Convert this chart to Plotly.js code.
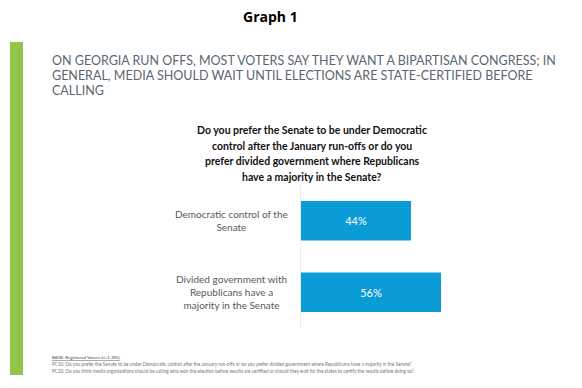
<!DOCTYPE html>
<html>
<head>
<meta charset="utf-8">
<script src="https://cdn.plot.ly/plotly-3.0.1.min.js"></script>
<style>html,body{margin:0;padding:0;background:#fff;}#chart{width:582px;height:388px;}</style>
</head>
<body>
<div id="chart"></div>
<script>
var categories = ["Democratic control of the<br>Senate", "Divided government with<br>Republicans have a<br>majority in the Senate"];
var values = [44, 56];
var chartTitle = "Graph 1";
var headingLines = ["ON GEORGIA RUN OFFS, MOST VOTERS SAY THEY WANT A BIPARTISAN CONGRESS; IN", "GENERAL, MEDIA SHOULD WAIT UNTIL ELECTIONS ARE STATE-CERTIFIED BEFORE", "CALLING"];
var questionLines = ["Do you prefer the Senate to be under Democratic", "control after the January run-offs or do you", "prefer divided government where Republicans", "have a majority in the Senate?"];
var baseNote = "<u>BASE: Registered Voters (n=1,305)</u>";
var footnoteLines = ["PC10: Do you prefer the Senate to be under Democratic control after the January run-offs or do you prefer divided government where Republicans have a majority in the Senate?", "PC20: Do you think media organizations should be calling who won the election before results are certified or should they wait for the states to certify the results before doing so?"];

var W = 582, H = 388;
var L = 301, R = 31, T = 185, B = 60;
var pw = W - L - R, ph = H - T - B;
function px(x){ return (x - L) / pw; }
function py(y){ return (H - B - y) / ph; }

var trace = {
  type: "bar",
  orientation: "h",
  y: categories,
  x: values,
  marker: {color: "#0b9bd7"},
  width: 0.55,
  texttemplate: "%{x}%",
  textposition: "inside",
  insidetextanchor: "middle",
  textfont: {family: "Lato, sans-serif", size: 11, color: "#ffffff"},
  hoverinfo: "skip"
};

var annotations = [
  {text: "<b>" + chartTitle + "</b>", xref: "paper", yref: "paper", x: px(270), y: py(16), xanchor: "center", yanchor: "middle", showarrow: false, font: {family: "Open Sans, sans-serif", size: 14, color: "#000"}},
  {text: baseNote, xref: "paper", yref: "paper", x: px(50), y: py(357), xanchor: "left", yanchor: "middle", align: "left", showarrow: false, font: {family: "Lato, sans-serif", size: 4.5, color: "#444"}}
];
headingLines.forEach(function(t, i){
  annotations.push({text: t, xref: "paper", yref: "paper", x: px(50), y: py(60 + i * 15.3), xanchor: "left", yanchor: "middle", align: "left", showarrow: false, font: {family: "Lato, sans-serif", size: 12.5, color: "#5a6670"}});
});
questionLines.forEach(function(t, i){
  annotations.push({text: "<b>" + t + "</b>", xref: "paper", yref: "paper", x: px(312), y: py(130 + i * 15.7), xanchor: "center", yanchor: "middle", align: "center", showarrow: false, font: {family: "Lato, sans-serif", size: 10.5, color: "#111"}});
});
footnoteLines.forEach(function(t, i){
  annotations.push({text: t, xref: "paper", yref: "paper", x: px(50), y: py(364 + i * 6.5), xanchor: "left", yanchor: "middle", align: "left", showarrow: false, font: {family: "Lato, sans-serif", size: 4.65, color: "#777"}});
});
categories.forEach(function(c){
  annotations.push({text: c, xref: "paper", yref: "y", x: px(231), y: c, xanchor: "center", yanchor: "middle", align: "center", showarrow: false, font: {family: "Lato, sans-serif", size: 10, color: "#595959"}});
});

var layout = {
  width: W, height: H,
  margin: {l: L, r: R, t: T, b: B, pad: 0},
  paper_bgcolor: "#fff", plot_bgcolor: "#fff",
  showlegend: false,
  xaxis: {range: [0, 100], visible: false, fixedrange: true},
  yaxis: {autorange: "reversed", showticklabels: false, ticks: "", showgrid: false, zeroline: false, showline: true, linecolor: "#ececec", linewidth: 1, fixedrange: true},
  shapes: [
    {type: "rect", xref: "paper", yref: "paper", x0: px(10), x1: px(23), y0: py(42), y1: py(375), fillcolor: "#8fc64a", line: {width: 0}}
  ],
  annotations: annotations
};

Plotly.newPlot("chart", [trace], layout, {displayModeBar: false, staticPlot: true});
</script>
</body>
</html>
